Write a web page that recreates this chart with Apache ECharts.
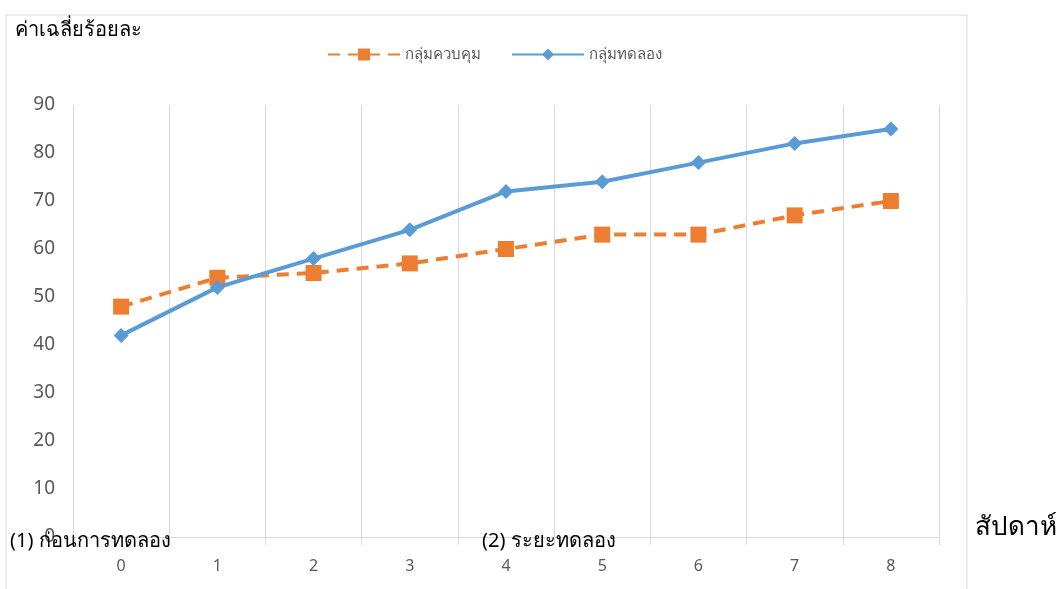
<!DOCTYPE html>
<html>
<head>
<meta charset="utf-8">
<script src="https://cdn.jsdelivr.net/npm/echarts@6/dist/echarts.min.js"></script>
<style>
  html, body { margin: 0; padding: 0; background: #fff; }
  #chartLine { width: 1056px; height: 589px; }
</style>
</head>
<body>
<div id="chartLine"></div>
<script>
  const weeks = ['0', '1', '2', '3', '4', '5', '6', '7', '8']
  const controlGroup = [48, 54, 55, 57, 60, 63, 63, 67, 70]
  const experimentGroup = [42, 52, 58, 64, 72, 74, 78, 82, 85]
  const seriesNames = ['กลุ่มควบคุม', 'กลุ่มทดลอง']

  const font = 'Liberation Sans Narrow, Noto Sans, DejaVu Sans, sans-serif'
  const myChart = echarts.init(document.getElementById('chartLine'))
  const option = {
    backgroundColor: '#fff',
    animation: false,
    textStyle: { fontFamily: font },
    grid: {
      left: 73,
      right: 117,
      top: 105,
      bottom: 52
    },
    legend: {
      top: 42,
      left: 322,
      itemWidth: 72,
      itemHeight: 15,
      itemGap: 30,
      textStyle: { color: '#595959', fontSize: 15, fontFamily: font },
      data: seriesNames
    },
    xAxis: {
      type: 'category',
      boundaryGap: true,
      data: weeks,
      axisLine: { lineStyle: { color: '#d9d9d9', width: 1 } },
      axisTick: { show: true, length: 8, lineStyle: { color: '#d9d9d9' } },
      axisLabel: { color: '#595959', fontSize: 16, margin: 21 },
      splitLine: { show: true, lineStyle: { color: '#d9d9d9', width: 1 } }
    },
    yAxis: {
      type: 'value',
      min: 0,
      max: 90,
      interval: 10,
      axisLine: { show: false },
      axisTick: { show: false },
      axisLabel: { color: '#595959', fontSize: 19, margin: 18 },
      splitLine: { show: false }
    },
    graphic: [
      {
        type: 'rect',
        shape: { x: 6, y: 15, width: 961, height: 580 },
        style: { fill: 'none', stroke: '#d9d9d9', lineWidth: 1 },
        silent: true
      },
      {
        type: 'text', left: 15, top: 20,
        style: { text: 'ค่าเฉลี่ยร้อยละ', fill: '#000', fontSize: 20, fontFamily: font }
      },
      {
        type: 'text', left: 10, top: 531, z: 10,
        style: { text: '(1) ก่อนการทดลอง', fill: '#000', fontSize: 20, fontFamily: font }
      },
      {
        type: 'text', left: 482, top: 531, z: 10,
        style: { text: '(2) ระยะทดลอง', fill: '#000', fontSize: 20, fontFamily: font }
      },
      {
        type: 'text', left: 975, top: 515,
        style: { text: 'สัปดาห์', fill: '#000', fontSize: 26, fontFamily: font }
      }
    ],
    series: [
      {
        name: seriesNames[0],
        type: 'line',
        data: controlGroup,
        symbol: 'rect',
        symbolSize: 16,
        itemStyle: { color: '#ed7d31' },
        lineStyle: { color: '#ed7d31', width: 4, type: [12, 8] },
        z: 3
      },
      {
        name: seriesNames[1],
        type: 'line',
        data: experimentGroup,
        symbol: 'diamond',
        symbolSize: 15,
        itemStyle: { color: '#5b9bd5' },
        lineStyle: { color: '#5b9bd5', width: 4 },
        z: 4
      }
    ]
  }
  myChart.setOption(option)
</script>
</body>
</html>
